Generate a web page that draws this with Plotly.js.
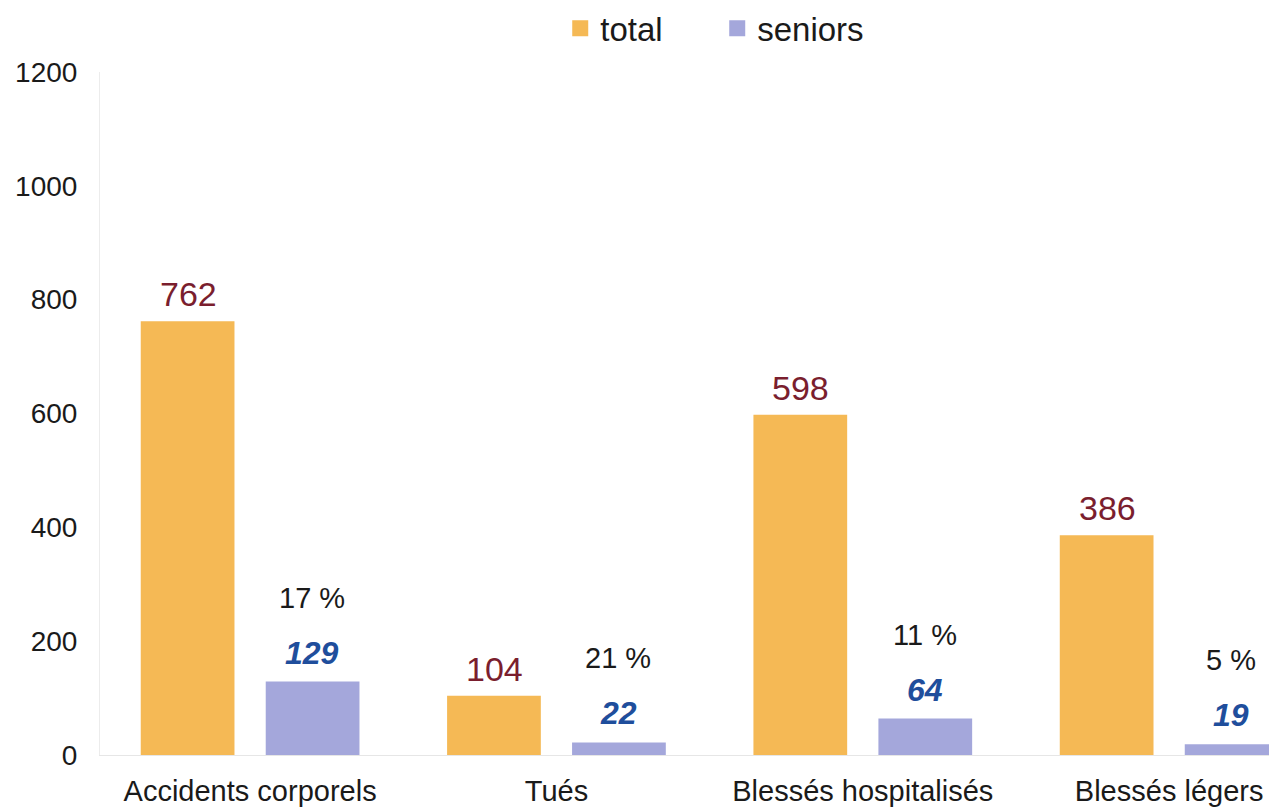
<!DOCTYPE html>
<html>
<head>
<meta charset="utf-8">
<script src="https://cdn.plot.ly/plotly-3.0.1.min.js"></script>
<style>html,body{margin:0;padding:0;background:#fff;}#chart{width:1269px;height:808px;}</style>
</head>
<body>
<div id="chart"></div>
<script>
const categories = ["Accidents corporels", "Tués", "Blessés hospitalisés", "Blessés légers"];
const totalValues = [762, 104, 598, 386];
const seniorValues = [129, 22, 64, 19];
const seniorShares = ["17 %", "21 %", "11 %", "5 %"];
const yTicks = [0, 200, 400, 600, 800, 1000, 1200];

const FONT = "Liberation Sans, Arial, sans-serif";
const TOTAL_COLOR = "#F5B955";
const SENIOR_COLOR = "#A4A7DB";
const OFFSET = 62; // px shift of each bar from category centre

const traces = [
  {
    type: "bar", name: "total", x: categories, y: totalValues,
    marker: {color: TOTAL_COLOR}, showlegend: false
  },
  {
    type: "bar", name: "seniors", x: categories, y: seniorValues,
    marker: {color: SENIOR_COLOR}, showlegend: false
  },
  {
    type: "scatter", mode: "markers", name: "total", x: [null], y: [null],
    marker: {symbol: "square", size: 16, color: TOTAL_COLOR}, showlegend: true
  },
  {
    type: "scatter", mode: "markers", name: "seniors", x: [null], y: [null],
    marker: {symbol: "square", size: 16, color: SENIOR_COLOR}, showlegend: true
  }
];

const annotations = [];
categories.forEach((c, i) => {
  annotations.push({
    x: c, y: totalValues[i], xref: "x", yref: "y", text: String(totalValues[i]),
    showarrow: false, xshift: -OFFSET, yshift: 27, yanchor: "middle",
    font: {family: FONT, size: 34, color: "#7A1E2E"}
  });
  annotations.push({
    x: c, y: seniorValues[i], xref: "x", yref: "y", text: "<b><i>" + seniorValues[i] + "</i></b>",
    showarrow: false, xshift: OFFSET, yshift: 29, yanchor: "middle",
    font: {family: FONT, size: 32, color: "#1F4E9C"}
  });
  annotations.push({
    x: c, y: seniorValues[i], xref: "x", yref: "y", text: seniorShares[i],
    showarrow: false, xshift: OFFSET, yshift: 84, yanchor: "middle",
    font: {family: FONT, size: 29, color: "#1a1a1a"}
  });
});

const layout = {
  width: 1269, height: 808,
  margin: {l: 100, r: 0, t: 72, b: 53, autoexpand: false},
  paper_bgcolor: "#fff", plot_bgcolor: "#fff",
  barmode: "group", bargap: 0.184, bargroupgap: 0.25,
  showlegend: true,
  legend: {orientation: "h", x: 0.528, xanchor: "center", y: 0.965, yanchor: "middle",
           yref: "container", itemsizing: "trace", itemwidth: 30, entrywidth: 112,
           font: {family: FONT, size: 33, color: "#1a1a1a"}, traceorder: "normal"},
  xaxis: {range: [-0.49, 3.326], showline: true, linecolor: "#e6e6e6", linewidth: 1,
          showgrid: false, ticks: "", ticklabelstandoff: 10,
          tickfont: {family: FONT, size: 29, color: "#1a1a1a"}, fixedrange: true},
  yaxis: {range: [0, 1200], tickvals: yTicks, showline: true, linecolor: "#ececec", linewidth: 1,
          showgrid: false, zeroline: false, ticks: "", ticklabelstandoff: 16,
          tickfont: {family: FONT, size: 28, color: "#1a1a1a"}, fixedrange: true},
  annotations: annotations,
  font: {family: FONT}
};

Plotly.newPlot("chart", traces, layout, {displayModeBar: false, staticPlot: true});
</script>
</body>
</html>
